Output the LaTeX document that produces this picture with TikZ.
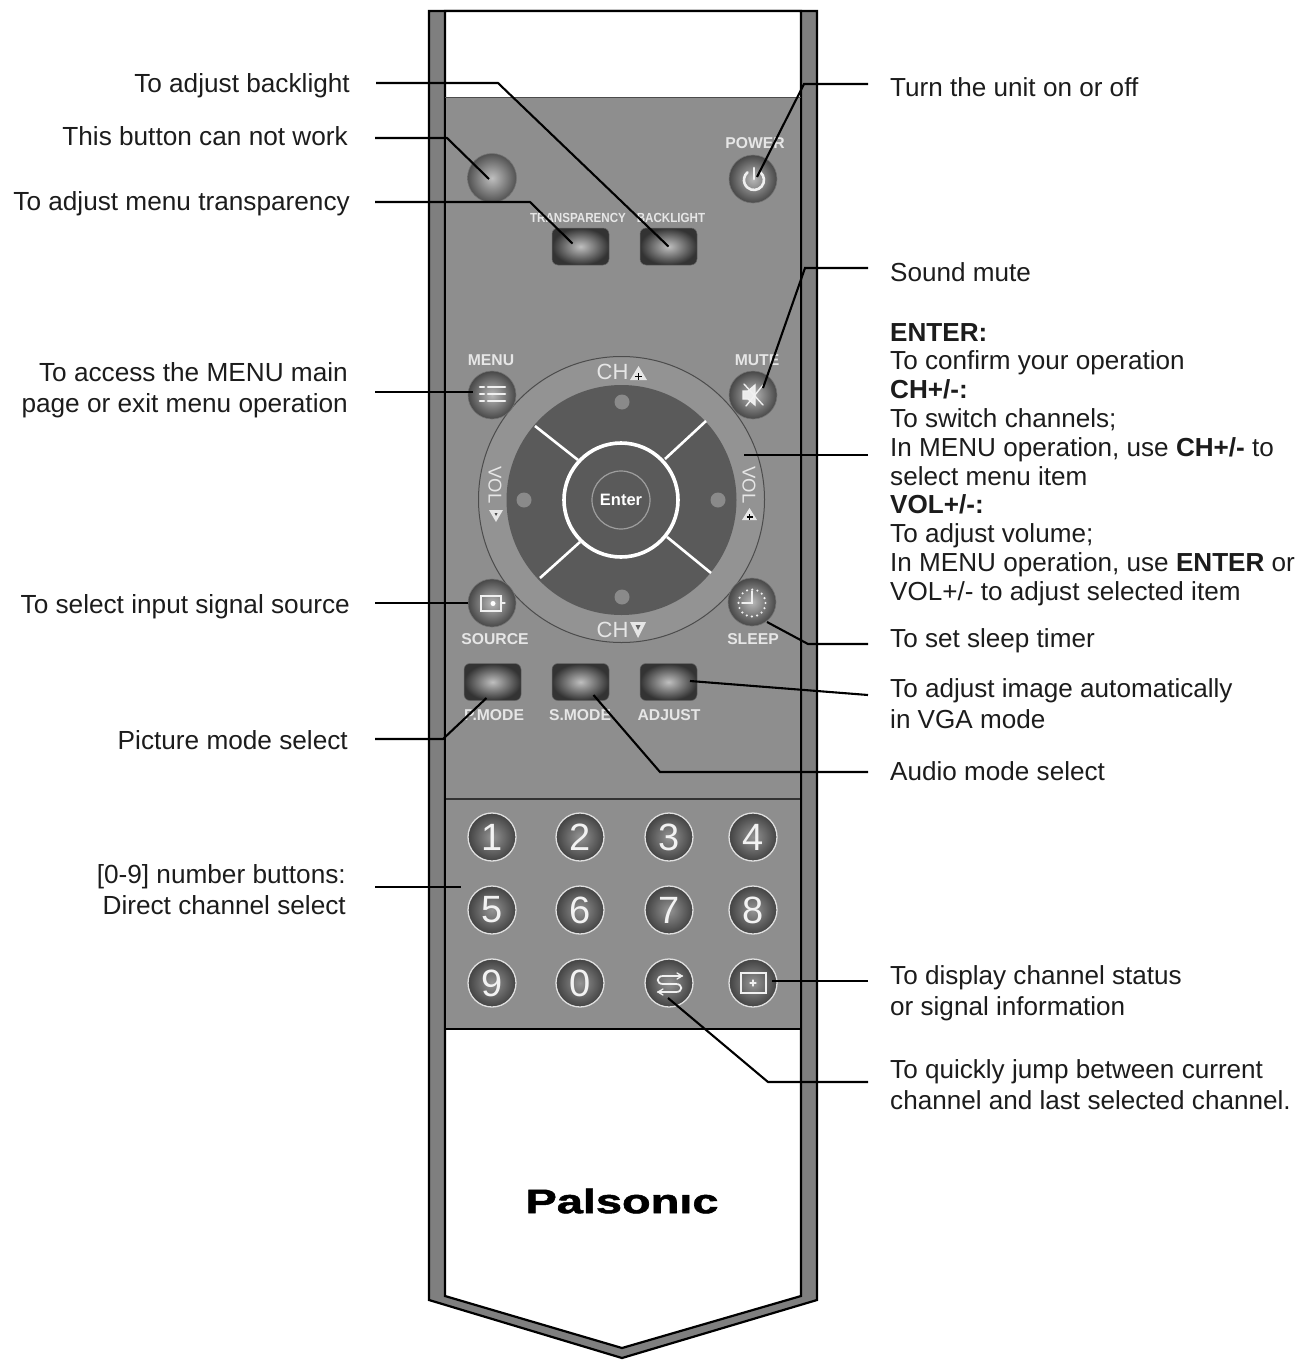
\documentclass[tikz,border=0pt]{standalone}
\usepackage{fontspec}
\setmainfont{Liberation Sans}
\newfontfamily\logofont[FakeBold=1.4]{Liberation Sans Bold}
\usetikzlibrary{calc}
\definecolor{panelg}{HTML}{8E8E8E}
\definecolor{ringg}{HTML}{939393}
\definecolor{railg}{HTML}{7F7F7F}
\definecolor{discg}{HTML}{5A5A5A}
\definecolor{inkc}{HTML}{1C1C1C}
\definecolor{capc}{HTML}{E6E6E6}
\tikzset{
  x=1pt,y=1pt,
  lead/.style={draw=black,line width=2.1pt,line join=miter},
  caption/.style={inner sep=0pt,text=inkc,font=\fontsize{26.2}{31}\selectfont,align=right,anchor=north east},
  captionr/.style={inner sep=0pt,text=inkc,font=\fontsize{26.1}{31}\selectfont,align=left,anchor=north west},
  tag/.style={inner sep=0pt,text=capc,font=\fontsize{15.7}{16}\bfseries\selectfont},
  tagnarrow/.style={inner sep=0pt,text=capc,font=\fontsize{13.2}{14}\bfseries\selectfont,xscale=.88},
  roundbtn/.style={circle,minimum size=48pt,inner sep=0pt,inner color=black!28,outer color=black!72,draw=black!55,line width=.6pt,text=capc},
  plainbtn/.style={circle,minimum size=49pt,inner sep=0pt,inner color=black!25,outer color=black!68,draw=black!55,line width=.6pt},
  keybtn/.style={circle,minimum size=48pt,inner sep=0pt,inner color=black!42,outer color=black!74,draw=black!12,line width=1.3pt,text=black!5,font=\fontsize{38}{38}\selectfont},
  rectbtn/.style={rounded corners=6pt,minimum width=57pt,minimum height=37pt,inner sep=0pt,inner color=black!25,outer color=black!80,draw=black!60,line width=.5pt},
  icon/.style={draw=black!6,line width=1.6pt,line cap=round},
  wedge/.style={draw=white,line width=2.6pt},
}
\begin{document}
\begin{tikzpicture}[yscale=-1]
\useasboundingbox (0,0) rectangle (1296,1362);
% body
\fill[railg,draw=black,line width=2.2pt,line join=miter] (429,11) -- (817,11) -- (817,1300) -- (622,1358) -- (429,1300) -- cycle;
\fill[white,draw=black,line width=2.2pt,line join=miter] (445,11) -- (801,11) -- (801,1296) -- (622,1348) -- (445,1296) -- cycle;
\fill[panelg] (445,98) rectangle (801,1029);
\draw[black!70,line width=1pt] (445,98) -- (801,98);
\draw[black!80,line width=1.3pt] (445,799) -- (801,799);
\draw[black,line width=1.5pt] (445,1029) -- (801,1029);
\draw[black,line width=2.2pt] (445,98) -- (445,1029) (801,98) -- (801,1029);
% ring and pad
\node[circle,minimum size=286pt,inner sep=0pt,fill=ringg,draw=black!70,line width=1pt] (ring) at (621.5,499.5) {};
\node[circle,minimum size=230pt,inner sep=0pt,fill=discg] (pad) at (621.5,500) {};
\draw[wedge] (535,426) -- (578,460) (706,421) -- (665,459) (540,578) -- (580,542) (711,573) -- (667,537);
\node[circle,minimum size=114pt,inner sep=0pt,fill=discg,draw=white,line width=3.6pt] (okring) at (621,500) {};
\node[circle,minimum size=58pt,inner sep=0pt,draw=black!38,line width=1.2pt,text=white,font=\fontsize{16.5}{18}\bfseries\selectfont] (enter) at (621,500) {Enter};
\foreach \n/\p in {dotN/{(622,402)},dotS/{(622,597)},dotW/{(524,500)},dotE/{(718,500)}}
  \node[circle,minimum size=15pt,inner sep=0pt,fill=black!46] (\n) at \p {};
% CH and VOL legends
\node[inner sep=0pt,text=capc,font=\fontsize{22}{23}\selectfont] (chup) at (612.5,372) {CH};
\node[inner sep=0pt,text=capc,font=\fontsize{22}{23}\selectfont] (chdn) at (612.5,630) {CH};
\node[inner sep=0pt,text=capc,font=\fontsize{18.5}{20}\selectfont,rotate=-90] (volw) at (495,485) {VOL};
\node[inner sep=0pt,text=capc,font=\fontsize{18.5}{20}\selectfont,rotate=-90] (vole) at (749,485) {VOL};
\fill[capc] (630,380) -- (647,380) -- (638.5,366) -- cycle;
\draw[black,line width=1.1pt] (638.5,373) -- (638.5,380) (635,376.5) -- (642,376.5);
\fill[capc] (630,622) -- (646,622) -- (638,638) -- cycle;
\fill[black!60] (635.5,625) -- (640.5,625) -- (638,630) -- cycle;
\fill[capc] (489,510) -- (503,510) -- (496,522) -- cycle;
\fill[black!70] (494.5,513) -- (497.5,513) -- (496,516) -- cycle;
\fill[capc] (742,520) -- (757,520) -- (749.5,508) -- cycle;
\draw[black,line width=1.1pt] (749.5,514) -- (749.5,520) (746.5,517) -- (752.5,517);
% upper buttons
\node[plainbtn] (blank) at (492,178) {};
\node[roundbtn] (power) at (753,179) {};
\node[rectbtn] (transp) at (580.5,246.5) {};
\node[rectbtn] (backl) at (668.5,246.5) {};
\node[roundbtn] (menu) at (492,395) {};
\node[roundbtn] (mute) at (753,395) {};
\node[roundbtn] (source) at (492,603) {};
\node[roundbtn] (sleep) at (752,602) {};
\node[rectbtn] (pmode) at (492.5,682) {};
\node[rectbtn] (smode) at (580.5,682) {};
\node[rectbtn] (adjust) at (668.5,682) {};
% tags
\node[tag] (tPower) at (755,143) {POWER};
\node[tagnarrow] (tTransp) at (578,218) {TRANSPARENCY};
\node[tagnarrow] (tBackl) at (671,218) {BACKLIGHT};
\node[tag] (tMenu) at (491,360) {MENU};
\node[tag] (tMute) at (757,360) {MUTE};
\node[tag] (tSource) at (495,639) {SOURCE};
\node[tag] (tSleep) at (753,639) {SLEEP};
\node[tag] (tPmode) at (494,715) {P.MODE};
\node[tag] (tSmode) at (580,715) {S.MODE};
\node[tag] (tAdjust) at (669,715) {ADJUST};
% icons
\draw[icon,line width=2.6pt] (754,168) -- (754,179);
\draw[icon,line width=2.6pt] (760.4,172.3) arc[start angle=-50,end angle=230,radius=10pt];
\foreach \yy in {387,394,401} {\draw[icon,line width=2.6pt] (480,\yy) -- (484,\yy) (488,\yy) -- (505,\yy);}
\draw[icon,line width=1.3pt,fill=black!8] (743,391) -- (748,391) -- (755,385) -- (755,405) -- (748,399) -- (743,399) -- cycle;
\draw[icon,line width=1.4pt] (744,384) -- (763,405) (763,385) -- (746,406);
\draw[icon,line width=1.3pt] (481,596) rectangle (501,611);
\fill[white] (493,603.5) circle[radius=2.5pt];
\draw[icon,line width=1.2pt] (501,603) -- (505,603);
\draw[icon,line width=2.4pt,dash pattern=on 0pt off 5.3pt] (752,603) circle[radius=13.5pt];
\draw[icon,line width=1.7pt] (752,591) -- (752,603) -- (742,603);
% keypad
\foreach \n/\t/\p in {k1/1/{(492,837)},k2/2/{(580,837)},k3/3/{(669,837)},k4/4/{(753,837)},
  k5/5/{(492,910)},k6/6/{(580,910)},k7/7/{(669,910)},k8/8/{(753,910)},
  k9/9/{(492,983)},k0/0/{(580,983)}}
  \node[keybtn] (\n) at \p {\t};
\node[keybtn] (kjump) at (669,983) {};
\node[keybtn] (kinfo) at (753,983) {};
\draw[icon,line width=1.8pt] (682,976) -- (663,976) .. controls (656,976) and (656,984) .. (663,984) -- (676,984) .. controls (683,984) and (683,992) .. (676,992) -- (658,992);
\draw[icon,line width=1.3pt] (677,973) -- (682,976) -- (677,979) (663,989) -- (658,992) -- (663,995);
\draw[icon,line width=1.3pt] (741,973) rectangle (766,993);
\draw[icon,line width=1.2pt] (750,983) -- (756,983) (753,980) -- (753,986);
% logo
\node[inner sep=0pt,text=black,font=\logofont\fontsize{34}{34}\selectfont,xscale=1.38] (logo) at (622,1201) {Palsonic};
\fill[white] (678,1185) rectangle (693,1194.4);
% captions left
\node[caption] (cBack) at (350,73) {To adjust backlight};
\node[caption] (cBlank) at (348,126) {This button can not work};
\node[caption] (cTransp) at (350,191) {To adjust menu transparency};
\node[caption] (cMenu) at (348,362) {To access the MENU main\\page or exit menu operation};
\node[caption] (cSource) at (350,594) {To select input signal source};
\node[caption] (cPmode) at (348,730) {Picture mode select};
\node[caption] (cNum) at (346,864) {[0-9] number buttons:\\Direct channel select};
% captions right
\node[captionr] (cPower) at (890,77) {Turn the unit on or off};
\node[captionr] (cMute) at (890,262) {Sound mute};
\node[captionr,font=\fontsize{26.1}{28.8}\selectfont] (cEnter) at (890,323) {\textbf{ENTER:}\\To confirm your operation\\\textbf{CH+/-:}\\To switch channels;\\In MENU operation, use \textbf{CH+/-} to\\select menu item\\\textbf{VOL+/-:}\\To adjust volume;\\In MENU operation, use \textbf{ENTER} or\\VOL+/- to adjust selected item};
\node[captionr] (cSleep) at (890,628) {To set sleep timer};
\node[captionr] (cAdjust) at (890,678) {To adjust image automatically\\in VGA mode};
\node[captionr] (cSmode) at (890,761) {Audio mode select};
\node[captionr] (cInfo) at (890,965) {To display channel status\\or signal information};
\node[captionr] (cJump) at (890,1059) {To quickly jump between current\\channel and last selected channel.};
% connector free ends
\coordinate (eBack) at (376,83);
\coordinate (eBlank) at (375,138);
\coordinate (eTransp) at (375,202);
\coordinate (eMenu) at (375,392);
\coordinate (eSource) at (375,603);
\coordinate (ePmode) at (375,739);
\coordinate (eNum) at (375,887);
\coordinate (eNumEnd) at (461,887);
\coordinate (ePower) at (868,84);
\coordinate (eMute) at (868,268);
\coordinate (eEnter) at (868,455);
\coordinate (eEnterEnd) at (744,455);
\coordinate (eSleep) at (868,644);
\coordinate (eAdjust) at (868,695);
\coordinate (eSmode) at (868,772);
\coordinate (eInfo) at (868,981);
\coordinate (eJump) at (868,1082);
% connectors
\draw[lead] (eBack) -- ++(122,0) -- (backl.center);
\draw[lead] (eBlank) -- ++(72,0) -- ([shift={(-3,1)}]blank.center);
\draw[lead] (eTransp) -- ++(155,0) -- ([shift={(-8,-3)}]transp.center);
\draw[lead] (ePower) -- ++(-64,0) -- ([shift={(4,-2)}]power.center);
\draw[lead] (eMute) -- ++(-63,0) -- ([shift={(10,-7)}]mute.center);
\draw[lead] (eMenu) -- ([shift={(-19,-3)}]menu.center);
\draw[lead] (eEnter) -- (eEnterEnd);
\draw[lead] (eSource) -- (source.west);
\draw[lead] (eSleep) -- ++(-60,0) -- ([shift={(15,20)}]sleep.center);
\draw[lead] (eAdjust) -- ([shift={(21.5,-1)}]adjust.center);
\draw[lead] (ePmode) -- ++(68,0) -- ([shift={(-6,16)}]pmode.center);
\draw[lead] (eSmode) -- ++(-208,0) -- ([shift={(13,13)}]smode.center);
\draw[lead] (eNum) -- (eNumEnd);
\draw[lead] (eInfo) -- ([shift={(19,-2)}]kinfo.center);
\draw[lead] (eJump) -- ++(-100,0) -- ([shift={(-1,15)}]kjump.center);
\end{tikzpicture}
\end{document}
